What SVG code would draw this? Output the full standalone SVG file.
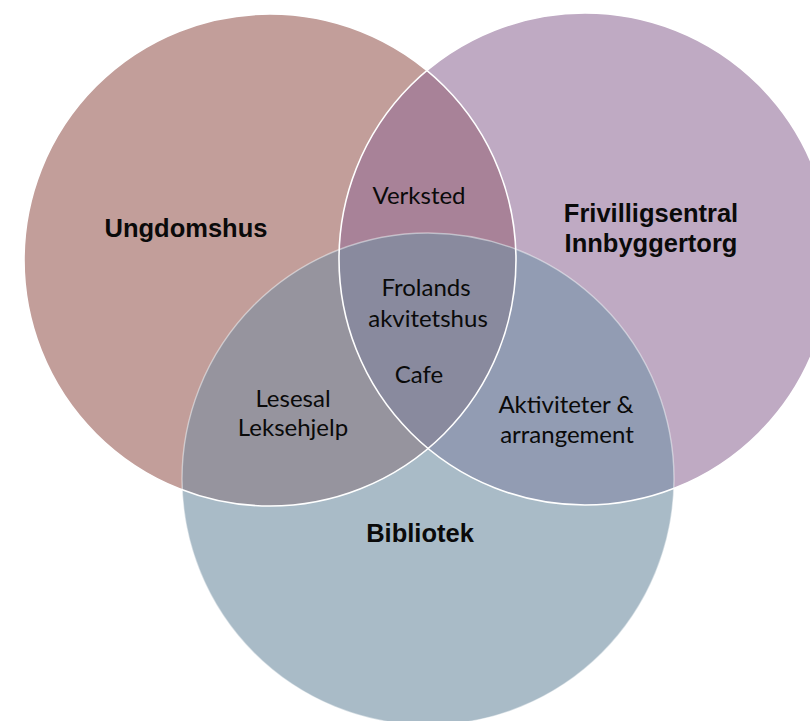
<svg xmlns="http://www.w3.org/2000/svg" width="810" height="721" viewBox="0 0 810 721">
  <style>
    .title { font-family: "Liberation Sans", Arial, sans-serif; font-weight: bold; font-size: 25.5px; fill: #0a0a0a; text-anchor: middle; }
    .item { font-family: Lato, "Open Sans", sans-serif; font-size: 24px; fill: #0a0a0a; text-anchor: middle; }
    .edge { fill: none; stroke: #ffffff; stroke-width: 1.6; }
    .edge-soft { fill: none; stroke: #ffffff; stroke-width: 1.4; stroke-opacity: 0.45; }
  </style>
  <defs>
    <circle id="shape1" cx="270" cy="260" r="246"/>
    <circle id="shape2" cx="585" cy="259" r="246"/>
    <circle id="shape3" cx="428" cy="479" r="246"/>
    <clipPath id="clip1"><use href="#shape1"/></clipPath>
    <clipPath id="clip2"><use href="#shape2"/></clipPath>
  </defs>
  <rect width="810" height="721" fill="#ffffff"/>

  <g id="ungdomshus">
    <use href="#shape1" fill="#C29E9A"/>
  </g>
  <g id="frivilligsentral">
    <use href="#shape2" fill="#BFAAC3"/>
  </g>
  <g id="bibliotek">
    <use href="#shape3" fill="#A9BBC7"/>
  </g>
  <g id="verksted-overlap">
    <use href="#shape2" fill="#A88298" clip-path="url(#clip1)"/>
  </g>
  <g id="lesesal-overlap">
    <use href="#shape3" fill="#96949E" clip-path="url(#clip1)"/>
  </g>
  <g id="aktiviteter-overlap">
    <use href="#shape3" fill="#929CB3" clip-path="url(#clip2)"/>
  </g>
  <g id="center-overlap">
    <g clip-path="url(#clip1)">
      <use href="#shape3" fill="#898A9E" clip-path="url(#clip2)"/>
    </g>
  </g>

  <g id="outlines">
    <use href="#shape3" class="edge-soft"/>
    <use href="#shape1" class="edge"/>
    <use href="#shape2" class="edge"/>
  </g>

  <g id="connectors"/>

  <g id="labels">
    <text class="title" x="186" y="237">Ungdomshus</text>
    <text class="title" x="651" y="222">Frivilligsentral</text>
    <text class="title" x="651" y="252">Innbyggertorg</text>
    <text class="title" x="420" y="542">Bibliotek</text>
    <text class="item" x="419" y="204">Verksted</text>
    <text class="item" x="426" y="296">Frolands</text>
    <text class="item" x="428" y="327">akvitetshus</text>
    <text class="item" x="419" y="383">Cafe</text>
    <text class="item" x="293" y="407">Lesesal</text>
    <text class="item" x="293" y="436">Leksehjelp</text>
    <text class="item" x="566" y="413">Aktiviteter &amp;</text>
    <text class="item" x="567" y="443">arrangement</text>
  </g>
</svg>
